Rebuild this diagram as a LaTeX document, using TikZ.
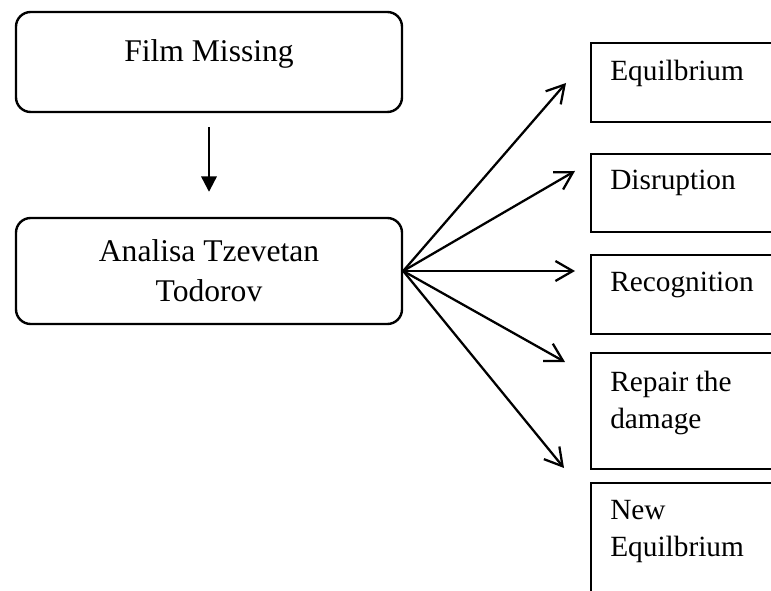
\documentclass[tikz,border=0pt]{standalone}
\usepackage{fontspec}
\setmainfont{Liberation Serif}
\usepackage{tikz}
\usetikzlibrary{calc,arrows.meta}
\tikzset{
	leftbox/.style={draw, line width=1.8pt, rounded corners=11pt, minimum width=289.5pt, inner sep=0pt, font=\fontsize{23.7}{30}\selectfont},
	rightbox/.style={draw, line width=1.8pt, anchor=north west, minimum width=165pt, inner sep=0pt},
	righttext/.style={anchor=north west, inner sep=0pt, align=left, font=\fontsize{22}{27.75}\selectfont},
	fanarrow/.style={line width=1.7pt, -{Straight Barb[length=13pt,width=15pt]}},
	downarrow/.style={line width=1.7pt, -{Triangle[length=11.5pt,width=11.5pt]}, shorten <=10.5pt, shorten >=18.75pt}
}

\begin{document}
\begin{tikzpicture}[x=0.75pt, y=-0.75pt]
		%%%%% START %%%%%
		\useasboundingbox (0, 0) rectangle (771, 591);
		\clip (0, 0) rectangle (771, 591);
		
		\node[leftbox, text height=37.5pt, text depth=37.5pt] (film) at (209, 62) {Film Missing};
		\node[leftbox, minimum height=79.5pt, align=center] (analisa) at (209, 271) {Analisa Tzevetan\\Todorov};
		
		\draw[downarrow] (film) -- (analisa);
		
		\node[rightbox, minimum height=59.25pt] (equil) at (590, 42) {};
		\node[rightbox, minimum height=58.5pt] (disrupt) at (590, 153) {};
		\node[rightbox, minimum height=59.25pt] (recog) at (590, 254) {};
		\node[rightbox, minimum height=87pt] (repair) at (590, 352) {};
		\node[rightbox, minimum height=112.5pt] (newequil) at (590, 482) {};
		
		\node[righttext] (equiltext) at ($(equil.north west)+(20, 18)$) {Equilbrium};
		\node[righttext] (disrupttext) at ($(disrupt.north west)+(20, 17)$) {Disruption};
		\node[righttext] (recogtext) at ($(recog.north west)+(20, 18)$) {Recognition};
		\node[righttext] (repairtext) at ($(repair.north west)+(20, 19)$) {Repair the\\damage};
		\node[righttext] (newequiltext) at ($(newequil.north west)+(20, 18)$) {New\\Equilbrium};
		
		\coordinate (tip1) at (566, 83);
		\coordinate (tip2) at (575, 171);
		\coordinate (tip3) at (575, 271);
		\coordinate (tip4) at (565, 362);
		\coordinate (tip5) at (564, 468);
		
		\draw[fanarrow] (analisa.east) -- (tip1);
		\draw[fanarrow] (analisa.east) -- (tip2);
		\draw[fanarrow] (analisa.east) -- (tip3);
		\draw[fanarrow] (analisa.east) -- (tip4);
		\draw[fanarrow] (analisa.east) -- (tip5);
		
		%%%%% END %%%%%
	\end{tikzpicture}
\end{document}
